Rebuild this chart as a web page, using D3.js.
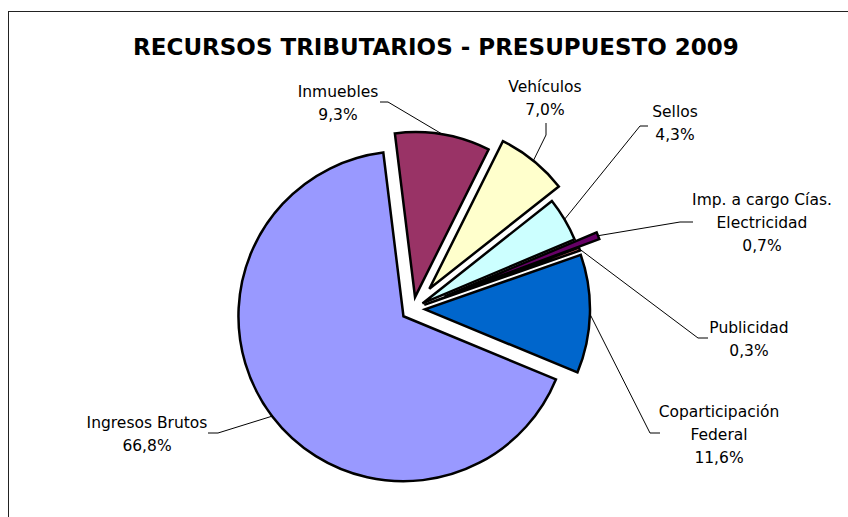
<!DOCTYPE html>
<html>
<head>
<meta charset="utf-8">
<script src="https://cdn.jsdelivr.net/npm/d3@7"></script>
<style>
	body { margin: 0; background: #fff; }
	svg { display: block; font-family: Tahoma, "DejaVu Sans", sans-serif; }
</style>
</head>
<body>
<div id="chart"></div>
<script>
// data, in the order the spreadsheet had it
var categories = ["Ingresos Brutos", "Inmuebles", "Vehículos", "Sellos", "Imp. a cargo Cías. Electricidad", "Publicidad", "Coparticipación Federal"];
var shares = [66.8, 9.3, 7.0, 4.3, 0.7, 0.3, 11.6];
var labelLines = [["Ingresos Brutos"], ["Inmuebles"], ["Vehículos"], ["Sellos"], ["Imp. a cargo Cías.", "Electricidad"], ["Publicidad"], ["Coparticipación", "Federal"]];

// look
var colors = ["#9999FF", "#993366", "#FFFFCC", "#CCFFFF", "#660066", "#FF8080", "#0066CC"];
var explode = [12, 12, 26, 11, 34, 12, 12];
// label placement: x centre, first baseline, elbow and end of the leader
var labelPos = [
	{x: 147, y: 428, elbow: [218, 433], end: [208, 433]},
	{x: 338, y: 97, elbow: [388, 102], end: [380, 102]},
	{x: 545, y: 92, elbow: [546, 135], end: [546, 123]},
	{x: 675, y: 117, elbow: [640, 126], end: [648, 126]},
	{x: 762, y: 205, elbow: [680, 222], end: [693, 222]},
	{x: 749, y: 333, elbow: [698, 338], end: [708, 338]},
	{x: 719, y: 417, elbow: [650, 433], end: [660, 433]}
];

var width = 848, height = 517;
var cx = 413, cy = 309, radius = 165;
var lineGap = 23;
var pct = function(v) { return d3.format(".1f")(v).replace(".", ",") + "%"; };

var svg = d3.select("#chart").append("svg")
	.attr("width", width).attr("height", height);

svg.append("rect")
	.attr("x", 8.5).attr("y", 11.5)
	.attr("width", 900).attr("height", 600)
	.attr("fill", "#fff").attr("stroke", "#222").attr("stroke-width", 1);

svg.append("text")
	.attr("x", 436).attr("y", 55)
	.attr("text-anchor", "middle")
	.attr("font-size", 23)
	.attr("font-weight", "bold")
	.text("RECURSOS TRIBUTARIOS - PRESUPUESTO 2009");

var startDeg = 112.5;
var pie = d3.pie().sort(null)
	.startAngle(startDeg * Math.PI / 180)
	.endAngle((startDeg + 360) * Math.PI / 180);
var arcs = pie(shares);
var arc = d3.arc().innerRadius(0).outerRadius(radius);

var mid = function(d) { return (d.startAngle + d.endAngle) / 2; };
var offset = function(d, i) {
	var a = mid(d);
	return [cx + explode[i] * Math.sin(a), cy - explode[i] * Math.cos(a)];
};

var g = svg.append("g");

// leaders first so the slices sit on top of them
var leaders = arcs.map(function(d, i) {
	var o = offset(d, i), a = mid(d);
	var anchor = [o[0] + radius * Math.sin(a), o[1] - radius * Math.cos(a)];
	return [anchor, labelPos[i].elbow, labelPos[i].end];
});
g.selectAll("path.leader")
	.data(leaders)
	.enter().append("path")
	.attr("class", "leader")
	.attr("d", d3.line())
	.attr("fill", "none")
	.attr("stroke", "#000")
	.attr("stroke-width", 1);

g.selectAll("path.slice")
	.data(arcs)
	.enter().append("path")
	.attr("class", "slice")
	.attr("transform", function(d, i) { return "translate(" + offset(d, i) + ")"; })
	.attr("d", arc)
	.attr("fill", function(d, i) { return colors[i]; })
	.attr("stroke", "#000")
	.attr("stroke-width", 2.5)
	.attr("stroke-linejoin", "miter");

var labels = svg.selectAll("text.lbl")
	.data(categories)
	.enter().append("text")
	.attr("class", "lbl")
	.attr("text-anchor", "middle")
	.attr("font-size", 15.5)
	.attr("fill", "#000");

labels.each(function(c, i) {
	var t = d3.select(this);
	var lines = labelLines[i].concat([pct(shares[i])]);
	lines.forEach(function(s, k) {
		t.append("tspan")
			.attr("x", labelPos[i].x)
			.attr("y", labelPos[i].y + k * lineGap)
			.text(s);
	});
});
</script>
</body>
</html>
